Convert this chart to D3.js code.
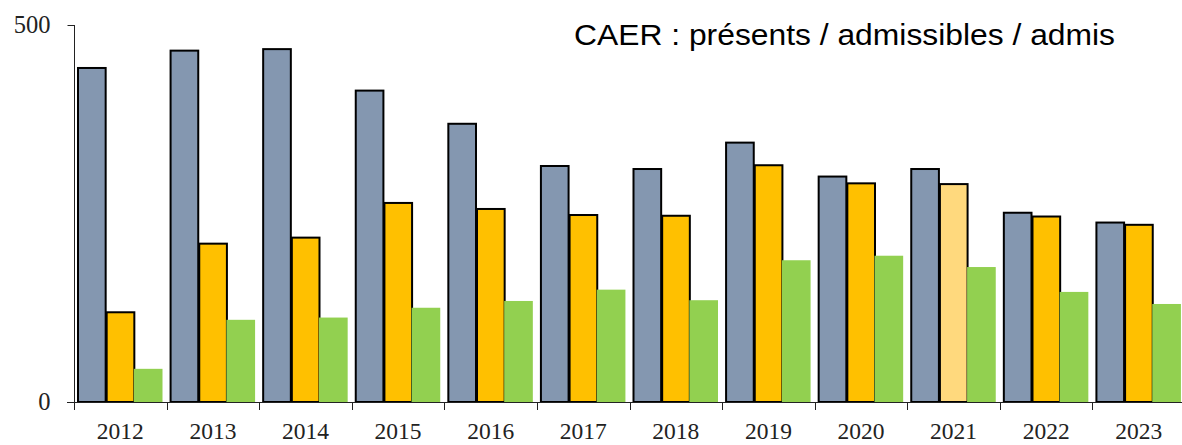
<!DOCTYPE html>
<html>
<head>
<meta charset="utf-8">
<script src="https://cdn.jsdelivr.net/npm/d3@7/dist/d3.min.js"></script>
<style>
  body { margin: 0; background: #fff; }
  svg { display: block; }
</style>
</head>
<body>
<div id="chart"></div>
<script>
// données
const years = [2012, 2013, 2014, 2015, 2016, 2017, 2018, 2019, 2020, 2021, 2022, 2023];
const presents = [443, 466, 468, 413, 369, 313, 309, 344, 299, 309, 251, 238];
const admissibles = [119, 210, 218, 264, 256, 248, 247, 314, 290, 289, 246, 235];
const admis = [44, 109, 112, 125, 134, 149, 135, 188, 194, 179, 146, 130];
const yTicks = [0, 500];
const title = "CAER : présents / admissibles / admis";

const width = 1182, height = 445;

const svg = d3.select("#chart").append("svg")
    .attr("width", width)
    .attr("height", height);

const x0 = d3.scaleBand()
    .domain(years)
    .range([74, 1185]);

const x1 = d3.scaleBand()
    .domain(["presents", "admissibles", "admis"])
    .range([3.5, 89.5]);

const y = d3.scaleLinear()
    .domain([0, 500])
    .range([402, 25]);

const rows = years.map((yr, i) => ({
    year: yr,
    values: [
        { key: "presents", v: presents[i] },
        { key: "admissibles", v: admissibles[i] },
        { key: "admis", v: admis[i] }
    ]
}));

const fillFor = (d, yr) => {
    if (d.key === "presents") return "#8497b0";
    if (d.key === "admissibles") return yr === 2021 ? "#ffd97d" : "#ffc000";
    return "#92d050";
};

const groups = svg.append("g")
    .selectAll("g")
    .data(rows)
    .join("g")
    .attr("transform", d => `translate(${x0(d.year)},0)`);

groups.selectAll("rect")
    .data(d => d.values.map(v => ({ ...v, year: d.year })))
    .join("rect")
    .attr("x", d => x1(d.key) + (d.key === "admis" ? -1 : 0.5))
    .attr("width", d => x1.bandwidth() - (d.key === "admis" ? 0 : 1))
    .attr("y", d => y(d.v))
    .attr("height", d => y(0) - y(d.v))
    .attr("fill", d => fillFor(d, d.year))
    .attr("stroke", d => d.key === "admis" ? "none" : "#000")
    .attr("stroke-width", 2);

// axe vertical
const yAxis = svg.append("g")
    .attr("transform", "translate(74.5,0)")
    .call(d3.axisLeft(y).tickValues(yTicks).tickSize(7).tickPadding(17));
yAxis.select(".domain").attr("d", "M0,25V410").attr("stroke", "#222");
yAxis.selectAll(".tick line").attr("stroke", "#222");
yAxis.selectAll("text")
    .attr("font-family", "'Liberation Serif', 'DejaVu Serif', serif")
    .attr("font-size", 24.5)
    .attr("fill", "#222");

// axe horizontal : ligne de base, graduations entre les années, étiquettes
svg.append("line")
    .attr("x1", 67).attr("x2", width)
    .attr("y1", 402.5).attr("y2", 402.5)
    .attr("stroke", "#222");

svg.append("g")
    .selectAll("line")
    .data(years.slice(1))
    .join("line")
    .attr("x1", d => Math.round(x0(d)) + 0.5)
    .attr("x2", d => Math.round(x0(d)) + 0.5)
    .attr("y1", 402).attr("y2", 410)
    .attr("stroke", "#222");

const xAxis = svg.append("g")
    .attr("transform", "translate(0,402)")
    .call(d3.axisBottom(x0).tickSize(0).tickPadding(0));
xAxis.select(".domain").remove();
xAxis.selectAll("text")
    .attr("dy", null)
    .attr("y", 37)
    .attr("font-family", "'Liberation Serif', 'DejaVu Serif', serif")
    .attr("font-size", 23.5)
    .attr("fill", "#222");

svg.append("text")
    .attr("x", 574)
    .attr("y", 45)
    .attr("font-family", "'Liberation Sans', Arial, sans-serif")
    .attr("font-size", 29)
    .attr("textLength", 541)
    .attr("lengthAdjust", "spacingAndGlyphs")
    .attr("fill", "#000")
    .text(title);
</script>
</body>
</html>
